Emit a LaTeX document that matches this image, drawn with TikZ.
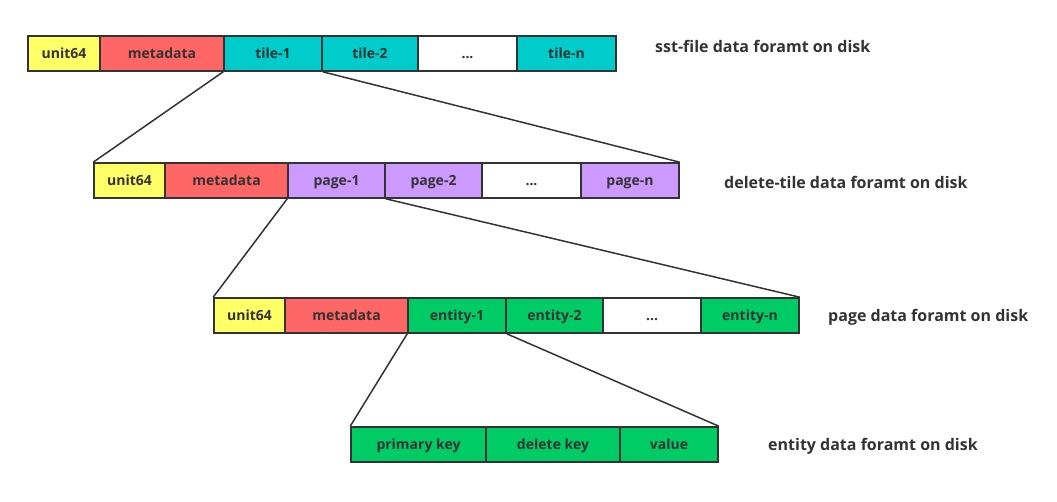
\documentclass[tikz,border=0pt]{standalone}
\usepackage{fontspec}
\setmainfont{Open Sans}
\definecolor{cyel}{HTML}{FFFF66}
\definecolor{cred}{HTML}{FF6666}
\definecolor{ccyan}{HTML}{00CCCC}
\definecolor{cpur}{HTML}{CC99FF}
\definecolor{cgrn}{HTML}{00CC66}
\definecolor{ctxt}{HTML}{333333}
\begin{document}
\begin{tikzpicture}[x=1pt,y=-1pt,
  cell/.style={draw=ctxt, line width=1.6pt, inner sep=0pt, minimum height=35pt,
    text height=11pt, text depth=2pt,
    font=\fontsize{14}{16}\selectfont\bfseries, text=ctxt},
  link/.style={draw=ctxt, line width=1.5pt},
  lbl/.style={anchor=west, inner sep=0pt, text height=13pt, text depth=2pt,
    font=\fontsize{16}{18}\selectfont\bfseries, text=ctxt}]
\useasboundingbox (0,0) rectangle (1057,501);
% row 1
\node[cell, fill=cyel, minimum width=72pt] (a1) at (64,53.5) {unit64};
\node[cell, fill=cred, minimum width=124pt] (a2) at (162,53.5) {metadata};
\node[cell, fill=ccyan, minimum width=98pt] (a3) at (273,53.5) {tile-1};
\node[cell, fill=ccyan, minimum width=96pt] (a4) at (370,53.5) {tile-2};
\node[cell, fill=white, minimum width=99pt] (a5) at (467.5,53.5) {...};
\node[cell, fill=ccyan, minimum width=99pt] (a6) at (566.5,53.5) {tile-n};
\node[lbl] (la) at (655,47) {sst-file data foramt on disk};
% row 2
\node[cell, fill=cyel, minimum width=71pt] (b1) at (129.5,180.5) {unit64};
\node[cell, fill=cred, minimum width=123pt] (b2) at (226.5,180.5) {metadata};
\node[cell, fill=cpur, minimum width=97pt] (b3) at (336.5,180.5) {page-1};
\node[cell, fill=cpur, minimum width=97pt] (b4) at (433.5,180.5) {page-2};
\node[cell, fill=white, minimum width=99pt] (b5) at (531.5,180.5) {...};
\node[cell, fill=cpur, minimum width=98pt] (b6) at (630,180.5) {page-n};
\node[lbl] (lb) at (724,183) {delete-tile data foramt on disk};
% row 3
\node[cell, fill=cyel, minimum width=71pt] (c1) at (249.5,315.5) {unit64};
\node[cell, fill=cred, minimum width=123pt] (c2) at (346.5,315.5) {metadata};
\node[cell, fill=cgrn, minimum width=98pt] (c3) at (457,315.5) {entity-1};
\node[cell, fill=cgrn, minimum width=97pt] (c4) at (554.5,315.5) {entity-2};
\node[cell, fill=white, minimum width=98pt] (c5) at (652,315.5) {...};
\node[cell, fill=cgrn, minimum width=98pt] (c6) at (750,315.5) {entity-n};
\node[lbl] (lc) at (828,316) {page data foramt on disk};
% row 4
\node[cell, fill=cgrn, minimum width=135pt] (d1) at (418.5,444.5) {primary key};
\node[cell, fill=cgrn, minimum width=134pt] (d2) at (553,444.5) {delete key};
\node[cell, fill=cgrn, minimum width=98pt] (d3) at (669,444.5) {value};
\node[lbl] (ld) at (768,445) {entity data foramt on disk};
% links
\draw[link] (a3.south west) -- (b1.north west);
\draw[link] (a3.south east) -- (b6.north east);
\draw[link] (b3.south west) -- (c1.north west);
\draw[link] (b3.south east) -- (c6.north east);
\draw[link] (c3.south west) -- (d1.north west);
\draw[link] (c3.south east) -- (d3.north east);
\end{tikzpicture}
\end{document}
